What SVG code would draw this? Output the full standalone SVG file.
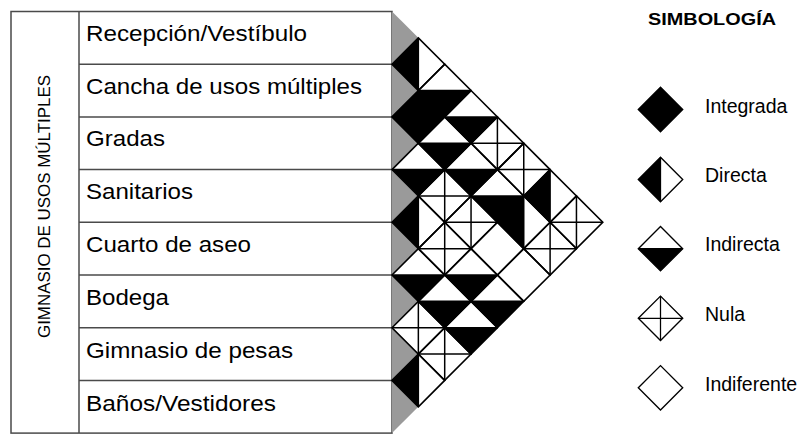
<svg xmlns="http://www.w3.org/2000/svg" xmlns:xlink="http://www.w3.org/1999/xlink" width="801" height="434" viewBox="0 0 801 434">
<style>
.tb{fill:none;stroke:#4a4a4a;stroke-width:1.5}
.gr{fill:#9a9a9a;stroke:none}
.ol{fill:none;stroke:#000;stroke-width:1.6;stroke-linejoin:miter}
.ln{stroke:#000;stroke-width:1.5}
.bk{fill:#000;stroke:none}
.lbl{font-family:"Liberation Sans",Arial,sans-serif;font-size:22px;fill:#000}
.leg{font-family:"Liberation Sans",Arial,sans-serif;font-size:19.5px;fill:#000}
.ttl{font-family:"Liberation Sans",Arial,sans-serif;font-size:17px;font-weight:bold;fill:#000}
.vt{font-family:"Liberation Sans",Arial,sans-serif;font-size:16px;fill:#000}
</style>
<defs>
<g id="t-int"><polygon class="bk" points="-26.35,0 0,-26.35 26.35,0 0,26.35"/><polygon class="ol" points="-26.35,0 0,-26.35 26.35,0 0,26.35"/></g>
<g id="t-dir"><polygon class="bk" points="-26.35,0 0,-26.35 0,26.35"/><line class="ln" x1="0" y1="-26.35" x2="0" y2="26.35"/><polygon class="ol" points="-26.35,0 0,-26.35 26.35,0 0,26.35"/></g>
<g id="t-ind"><polygon class="bk" points="-26.35,0 26.35,0 0,26.35"/><line class="ln" x1="-26.35" y1="0" x2="26.35" y2="0"/><polygon class="ol" points="-26.35,0 0,-26.35 26.35,0 0,26.35"/></g>
<g id="t-nul"><line class="ln" x1="0" y1="-26.35" x2="0" y2="26.35"/><line class="ln" x1="-26.35" y1="0" x2="26.35" y2="0"/><polygon class="ol" points="-26.35,0 0,-26.35 26.35,0 0,26.35"/></g>
<g id="t-inf"><polygon class="ol" points="-26.35,0 0,-26.35 26.35,0 0,26.35"/></g>
</defs>
<rect width="801" height="434" fill="#fff"/>

<g id="table">
<rect class="tb" x="11" y="11.5" width="381" height="421.6"/>
<line class="tb" x1="79" y1="11.5" x2="79" y2="433.1"/>
<line class="tb" x1="79" y1="64.2" x2="392" y2="64.2"/>
<line class="tb" x1="79" y1="116.9" x2="392" y2="116.9"/>
<line class="tb" x1="79" y1="169.6" x2="392" y2="169.6"/>
<line class="tb" x1="79" y1="222.3" x2="392" y2="222.3"/>
<line class="tb" x1="79" y1="275" x2="392" y2="275"/>
<line class="tb" x1="79" y1="327.7" x2="392" y2="327.7"/>
<line class="tb" x1="79" y1="380.4" x2="392" y2="380.4"/>
<text class="vt" transform="translate(50,206.5) rotate(-90)" text-anchor="middle" textLength="263" lengthAdjust="spacingAndGlyphs">GIMNASIO DE USOS MÚLTIPLES</text>
</g>

<g id="row-0"><polygon class="gr" points="392,11.5 418.35,37.85 392,64.2"/><text class="lbl" x="86" y="41" textLength="221" lengthAdjust="spacingAndGlyphs">Recepción/Vestíbulo</text></g>
<g id="row-1"><polygon class="gr" points="392,64.2 418.35,90.55 392,116.9"/><text class="lbl" x="86" y="93.7" textLength="276" lengthAdjust="spacingAndGlyphs">Cancha de usos múltiples</text></g>
<g id="row-2"><polygon class="gr" points="392,116.9 418.35,143.25 392,169.6"/><text class="lbl" x="86" y="146.4" textLength="79" lengthAdjust="spacingAndGlyphs">Gradas</text></g>
<g id="row-3"><polygon class="gr" points="392,169.6 418.35,195.95 392,222.3"/><text class="lbl" x="86" y="199.1" textLength="107" lengthAdjust="spacingAndGlyphs">Sanitarios</text></g>
<g id="row-4"><polygon class="gr" points="392,222.3 418.35,248.65 392,275"/><text class="lbl" x="86" y="251.8" textLength="165" lengthAdjust="spacingAndGlyphs">Cuarto de aseo</text></g>
<g id="row-5"><polygon class="gr" points="392,275 418.35,301.35 392,327.7"/><text class="lbl" x="86" y="305" textLength="83" lengthAdjust="spacingAndGlyphs">Bodega</text></g>
<g id="row-6"><polygon class="gr" points="392,327.7 418.35,354.05 392,380.4"/><text class="lbl" x="86" y="357.7" textLength="207" lengthAdjust="spacingAndGlyphs">Gimnasio de pesas</text></g>
<g id="row-7"><polygon class="gr" points="392,380.4 418.35,406.75 392,433.1"/><text class="lbl" x="86" y="410.5" textLength="190" lengthAdjust="spacingAndGlyphs">Baños/Vestidores</text></g>

<g id="matrix">
<use id="c-0-1" href="#t-dir" x="418.35" y="64.2"/>
<use id="c-1-2" href="#t-int" x="418.35" y="116.9"/>
<use id="c-2-3" href="#t-ind" x="418.35" y="169.6"/>
<use id="c-3-4" href="#t-dir" x="418.35" y="222.3"/>
<use id="c-4-5" href="#t-ind" x="418.35" y="275"/>
<use id="c-5-6" href="#t-nul" x="418.35" y="327.7"/>
<use id="c-6-7" href="#t-dir" x="418.35" y="380.4"/>
<use id="c-0-2" href="#t-ind" x="444.7" y="90.55"/>
<use id="c-1-3" href="#t-ind" x="444.7" y="143.25"/>
<use id="c-2-4" href="#t-nul" x="444.7" y="195.95"/>
<use id="c-3-5" href="#t-nul" x="444.7" y="248.65"/>
<use id="c-4-6" href="#t-ind" x="444.7" y="301.35"/>
<use id="c-5-7" href="#t-nul" x="444.7" y="354.05"/>
<use id="c-0-3" href="#t-ind" x="471.05" y="116.9"/>
<use id="c-1-4" href="#t-ind" x="471.05" y="169.6"/>
<use id="c-2-5" href="#t-nul" x="471.05" y="222.3"/>
<use id="c-3-6" href="#t-ind" x="471.05" y="275"/>
<use id="c-4-7" href="#t-ind" x="471.05" y="327.7"/>
<use id="c-0-4" href="#t-nul" x="497.4" y="143.25"/>
<use id="c-1-5" href="#t-ind" x="497.4" y="195.95"/>
<use id="c-2-6" href="#t-inf" x="497.4" y="248.65"/>
<use id="c-3-7" href="#t-ind" x="497.4" y="301.35"/>
<use id="c-0-5" href="#t-nul" x="523.75" y="169.6"/>
<use id="c-1-6" href="#t-dir" x="523.75" y="222.3"/>
<use id="c-2-7" href="#t-inf" x="523.75" y="275"/>
<use id="c-0-6" href="#t-dir" x="550.1" y="195.95"/>
<use id="c-1-7" href="#t-nul" x="550.1" y="248.65"/>
<use id="c-0-7" href="#t-nul" x="576.45" y="222.3"/>
</g>

<g id="connectors"></g>

<g id="legend">
<text class="ttl" x="648" y="25" textLength="128" lengthAdjust="spacingAndGlyphs">SIMBOLOGÍA</text>
<g id="leg-integrada"><use href="#t-int" transform="translate(660.5,109.5) scale(0.843)"/><text class="leg" x="705" y="112.5">Integrada</text></g>
<g id="leg-directa"><use href="#t-dir" transform="translate(660.5,179.5) scale(0.843)"/><text class="leg" x="705" y="182">Directa</text></g>
<g id="leg-indirecta"><use href="#t-ind" transform="translate(660.5,248.7) scale(0.843)"/><text class="leg" x="705" y="251.3">Indirecta</text></g>
<g id="leg-nula"><use href="#t-nul" transform="translate(660.5,318.3) scale(0.843)"/><text class="leg" x="705" y="321.2">Nula</text></g>
<g id="leg-indiferente"><use href="#t-inf" transform="translate(660.5,387.8) scale(0.843)"/><text class="leg" x="705" y="390.6">Indiferente</text></g>
</g>
</svg>
